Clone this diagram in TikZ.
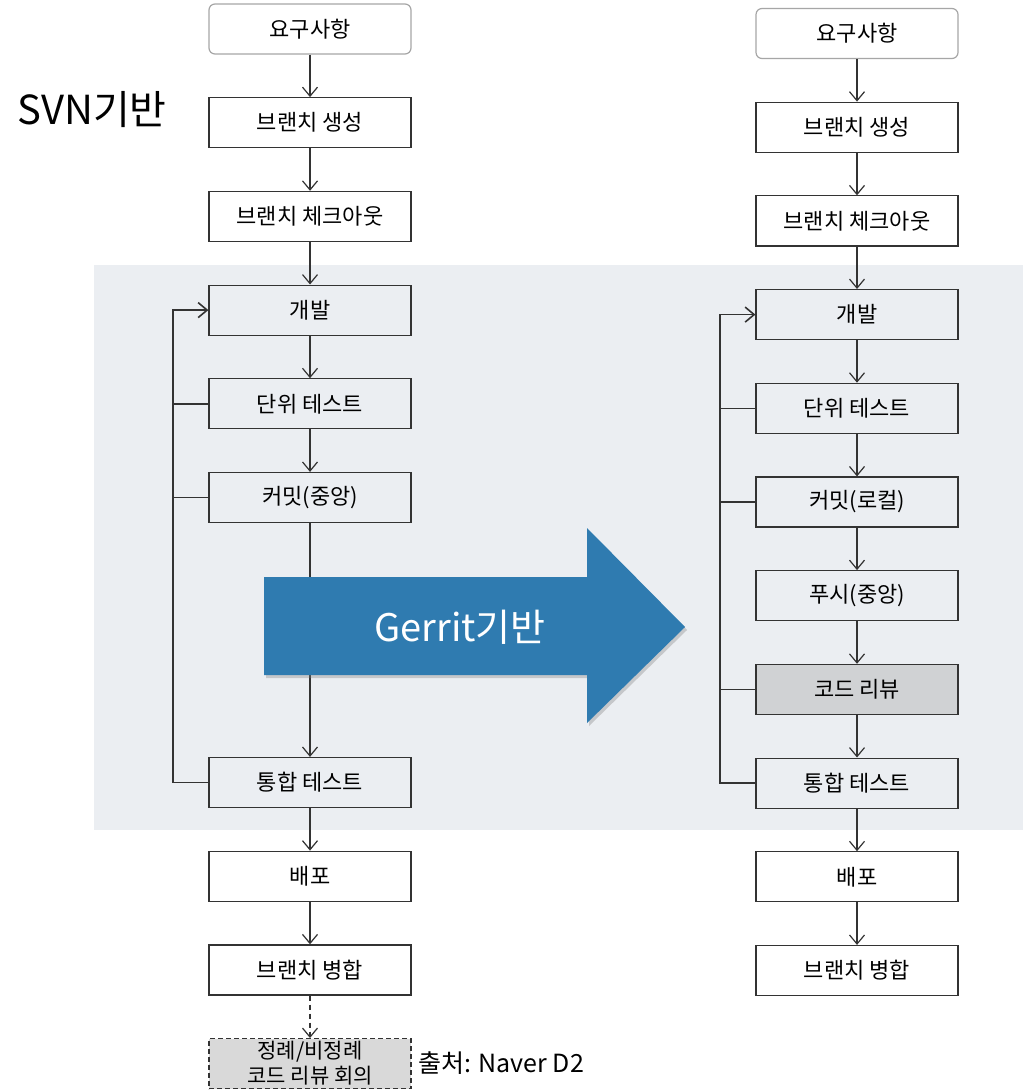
\documentclass[tikz,border=0pt]{standalone}
\usepackage{fontspec}
\setmainfont{Noto Sans CJK KR}
\usetikzlibrary{arrows.meta,positioning,shadows}

\definecolor{bandgray}{RGB}{235,238,242}
\definecolor{reviewgray}{RGB}{208,210,212}
\definecolor{meetgray}{RGB}{217,217,217}
\definecolor{gerritblue}{RGB}{47,123,176}
\definecolor{linegray}{RGB}{51,51,51}

\begin{document}
\begin{tikzpicture}[x=1pt, y=-1pt,
    node distance=42.5pt,
    box/.style={draw=linegray, line width=1.2pt, minimum width=202pt,
                minimum height=50pt, font=\fontsize{22}{25}\selectfont},
    req/.style={box, draw=gray!70, rounded corners=6pt},
    review/.style={box, fill=reviewgray},
    meet/.style={box, dash pattern=on 5pt off 3pt, fill=meetgray, align=center,
                 inner ysep=0pt, font=\fontsize{21}{25}\selectfont},
    arr/.style={-{Straight Barb[length=9pt,width=15pt]}, line width=1.2pt, linegray},
    fb/.style={line width=1.6pt, linegray},
    hand/.style={font=\fontsize{#1}{#1}\selectfont}
]
    \fill[white] (0,0) rectangle (1023,1091);
    \useasboundingbox (0,0) rectangle (1023,1091);
    \fill[bandgray] (94,265) rectangle (1023,830);

    % SVN
    \node[req] (lreq) at (310,29) {요구사항};
    \node[box, below=of lreq] (lbr) {브랜치 생성};
    \node[box, below=of lbr] (lco) {브랜치 체크아웃};
    \node[box, below=of lco] (ldev) {개발};
    \node[box, below=of ldev] (lunit) {단위 테스트};
    \node[box, below=of lunit] (lcommit) {커밋(중앙)};
    \node[box] (lint) at (310,782.5) {통합 테스트};
    \node[box, below=of lint] (ldep) {배포};
    \node[box, below=of ldep] (lmerge) {브랜치 병합};
    \node[meet, below=of lmerge] (lmeet) {정례/비정례\\코드 리뷰 회의};

    % Gerrit
    \node[req] (rreq) at (857,33.5) {요구사항};
    \node[box, below=of rreq] (rbr) {브랜치 생성};
    \node[box, below=of rbr] (rco) {브랜치 체크아웃};
    \node[box, below=of rco] (rdev) {개발};
    \node[box, below=of rdev] (runit) {단위 테스트};
    \node[box, below=of runit] (rcommit) {커밋(로컬)};
    \node[box, below=of rcommit] (rpush) {푸시(중앙)};
    \node[review, below=of rpush] (rreview) {코드 리뷰};
    \node[box, below=of rreview] (rint) {통합 테스트};
    \node[box, below=of rint] (rdep) {배포};
    \node[box, below=of rdep] (rmerge) {브랜치 병합};

    \foreach \a/\b in {lreq/lbr, lbr/lco, lco/ldev, ldev/lunit, lunit/lcommit,
                       lcommit/lint, lint/ldep, ldep/lmerge}
        \draw[arr] (\a) -- (\b);
    \draw[arr, dash pattern=on 5pt off 4pt] (lmerge) -- (lmeet);

    \foreach \a/\b in {rreq/rbr, rbr/rco, rco/rdev, rdev/runit, runit/rcommit,
                       rcommit/rpush, rpush/rreview, rreview/rint, rint/rdep, rdep/rmerge}
        \draw[arr] (\a) -- (\b);

    % feedback loops
    \coordinate (lbus) at (173,0);
    \draw[arr, fb] (lint.west) -- (lint.west -| lbus) -- (ldev.west -| lbus) -- (ldev.west);
    \foreach \n in {lunit, lcommit}
        \draw[fb] (\n.west) -- (\n.west -| lbus);

    \coordinate (rbus) at (720,0);
    \draw[arr, fb] (rint.west) -- (rint.west -| rbus) -- (rdev.west -| rbus) -- (rdev.west);
    \foreach \n in {runit, rcommit, rreview}
        \draw[fb] (\n.west) -- (\n.west -| rbus);

    % big arrow
    \fill[gerritblue, drop shadow={opacity=0.35, shadow xshift=2pt, shadow yshift=-3pt}]
        (264,577) -- (587,577) -- (587,528) -- (685,627) -- (587,723)
        -- (587,675) -- (264,675) -- cycle;
    \node[hand=38, text=white] (gerrit) at (460,627) {Gerrit기반};

    \node[hand=40] (svn) at (92,110) {SVN기반};
    \node[anchor=west, inner sep=0pt, font=\fontsize{25}{25}\selectfont] (src) at (418,1063) {출처: Naver D2};
\end{tikzpicture}
\end{document}
